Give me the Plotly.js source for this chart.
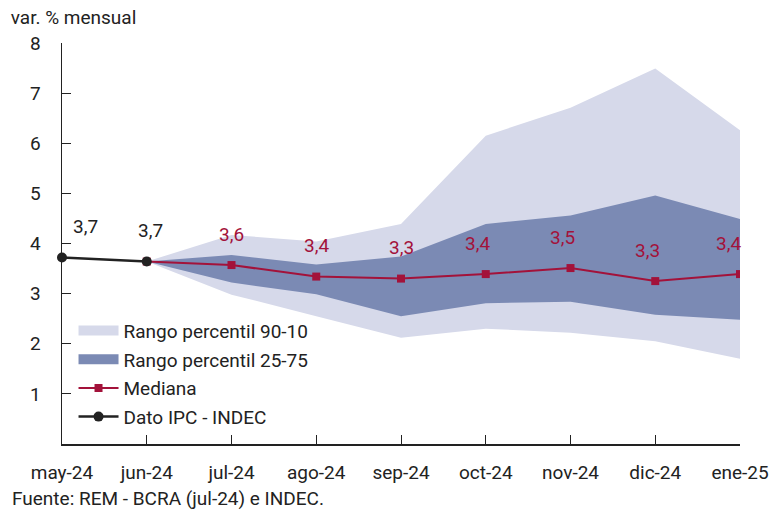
<!DOCTYPE html>
<html>
<head>
<meta charset="utf-8">
<script src="https://cdn.plot.ly/plotly-3.0.1.min.js"></script>
<style>html,body{margin:0;padding:0;background:#fff;}#chart{width:771px;height:511px;}</style>
</head>
<body>
<div id="chart"></div>
<script>
// ---- data ----
var months = ["may-24","jun-24","jul-24","ago-24","sep-24","oct-24","nov-24","dic-24","ene-25"];
var ipcMonths = ["may-24","jun-24"];
var ipcValues = [3.72, 3.64];
var ipcLabels = ["3,7","3,7"];
var remMonths = ["jun-24","jul-24","ago-24","sep-24","oct-24","nov-24","dic-24","ene-25"];
var medianValues = [3.64, 3.57, 3.34, 3.30, 3.39, 3.51, 3.25, 3.39];
var medianLabels = [null, "3,6","3,4","3,3","3,4","3,5","3,3","3,4"];
var p10 = [3.64, 2.98, 2.55, 2.12, 2.30, 2.22, 2.05, 1.70];
var p90 = [3.64, 4.17, 4.04, 4.39, 6.15, 6.71, 7.49, 6.26];
var p25 = [3.64, 3.22, 2.99, 2.55, 2.81, 2.84, 2.58, 2.48];
var p75 = [3.64, 3.77, 3.58, 3.74, 4.39, 4.56, 4.96, 4.49];
var yTicks = [1,2,3,4,5,6,7,8];

// ---- styles ----
var FONT = "Roboto, 'Noto Sans', sans-serif";
var FS = 19;
var TXT = "#222222";
var RED = "#a3123a";
var LIGHT = "#d6d9ea";
var DARK = "#7b8ab4";
var medianShift = [0, 0, 0, 0, -8, -8, -8, -12];
var ipcShift = [23, 4];

var traces = [
  {x: remMonths, y: p10, type: "scatter", mode: "lines", line: {width: 0, color: LIGHT}, showlegend: false, hoverinfo: "skip"},
  {x: remMonths, y: p90, type: "scatter", mode: "lines", fill: "tonexty", fillcolor: LIGHT, line: {width: 0, color: LIGHT}, showlegend: false, hoverinfo: "skip"},
  {x: remMonths, y: p25, type: "scatter", mode: "lines", line: {width: 0, color: DARK}, showlegend: false, hoverinfo: "skip"},
  {x: remMonths, y: p75, type: "scatter", mode: "lines", fill: "tonexty", fillcolor: DARK, line: {width: 0, color: DARK}, showlegend: false, hoverinfo: "skip"},
  // legend swatches for the two bands
  {x: [null], y: [null], type: "scatter", mode: "lines", line: {width: 13, color: LIGHT}, name: "Rango percentil 90-10", legendgroup: "a", legendrank: 1},
  {x: [null], y: [null], type: "scatter", mode: "lines", line: {width: 13, color: DARK}, name: "Rango percentil 25-75", legendgroup: "b", legendrank: 2},
  {x: remMonths, y: medianValues, type: "scatter", mode: "lines+markers", line: {width: 2, color: RED}, marker: {symbol: "square", size: 8, color: RED}, name: "Mediana", legendgroup: "c", legendrank: 3},
  {x: ipcMonths, y: ipcValues, type: "scatter", mode: "lines+markers", line: {width: 2.5, color: "#222222"}, marker: {symbol: "circle", size: 10, color: "#222222"}, name: "Dato IPC - INDEC", legendgroup: "d", legendrank: 4, cliponaxis: false}
];

var annotations = [];
ipcMonths.forEach(function(m, i){
  annotations.push({x: m, y: ipcValues[i], xref: "x", yref: "y", text: ipcLabels[i], showarrow: false,
    xshift: ipcShift[i], yshift: 31, font: {family: FONT, size: FS, color: TXT}});
});
remMonths.forEach(function(m, i){
  if (medianLabels[i] === null) return;
  annotations.push({x: m, y: medianValues[i], xref: "x", yref: "y", text: medianLabels[i], showarrow: false,
    xshift: medianShift[i], yshift: 31, font: {family: FONT, size: FS, color: RED}});
});
annotations.push({xref: "paper", yref: "paper", x: -0.077, y: -0.135, xanchor: "left", yanchor: "middle",
  text: "Fuente: REM - BCRA (jul-24) e INDEC.", showarrow: false, font: {family: FONT, size: FS, color: TXT}});

var layout = {
  width: 771, height: 511,
  margin: {l: 62, r: 31, t: 43, b: 67},
  paper_bgcolor: "#ffffff", plot_bgcolor: "#ffffff",
  font: {family: FONT, size: FS, color: TXT},
  title: {text: "var. % mensual", x: 0.014, xref: "container", xanchor: "left", y: 0.966, yref: "container", yanchor: "middle",
          font: {family: FONT, size: FS, color: TXT}},
  xaxis: {type: "category", categoryarray: months, categoryorder: "array", range: [0, 8],
          showline: true, linecolor: "#222222", linewidth: 1.5, ticks: "inside", ticklen: 9, tickcolor: "#222222", tickwidth: 1,
          showgrid: false, zeroline: false, ticklabelstandoff: 11, tickfont: {family: FONT, size: FS, color: TXT}, fixedrange: true},
  yaxis: {range: [0, 8], tickvals: yTicks, ticktext: yTicks.map(String),
          showline: true, linecolor: "#222222", linewidth: 1.5, ticks: "inside", ticklen: 9, tickcolor: "#222222", tickwidth: 1,
          showgrid: false, zeroline: false, ticklabelstandoff: 16, tickfont: {family: FONT, size: FS, color: TXT}, fixedrange: true},
  legend: {x: 0.017, y: 0.33, xanchor: "left", yanchor: "top", bgcolor: "rgba(0,0,0,0)", itemwidth: 40,
           tracegroupgap: 1, font: {family: FONT, size: FS, color: TXT}},
  annotations: annotations,
  showlegend: true
};

Plotly.newPlot("chart", traces, layout, {displayModeBar: false, staticPlot: true});
</script>
</body>
</html>
